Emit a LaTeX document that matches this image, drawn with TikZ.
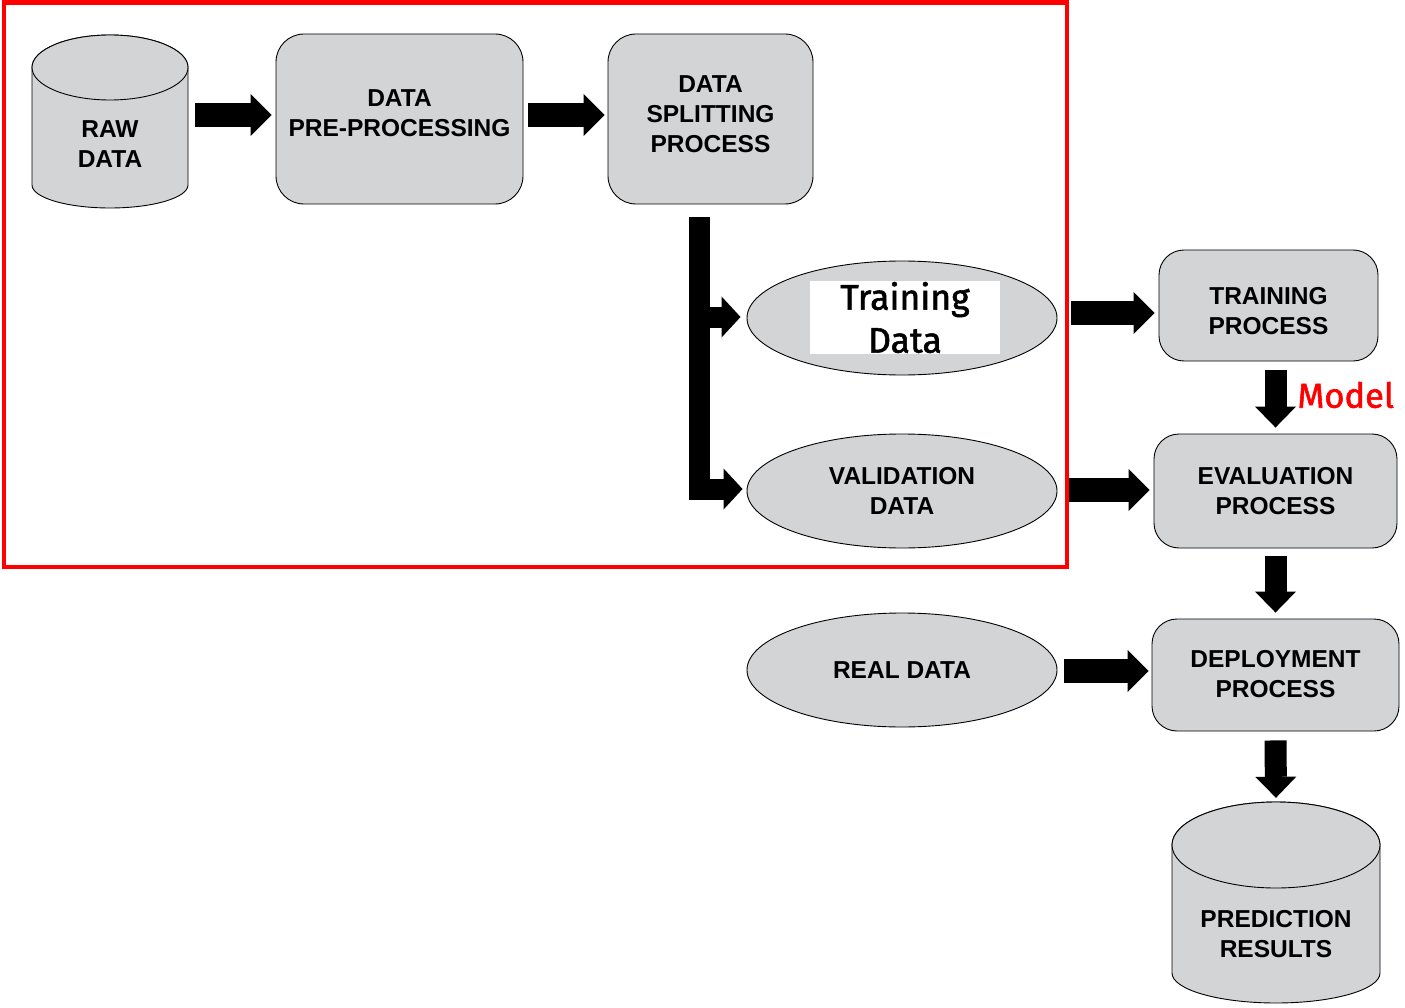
\documentclass[tikz,border=0pt]{standalone}
\usepackage{fontspec}
\setmainfont{Liberation Sans}
\newfontfamily\ubu[FakeBold=1.6]{Fira Sans}
\usetikzlibrary{arrows.meta,shapes.geometric,calc}
\definecolor{boxgray}{RGB}{211,212,214}
\definecolor{hired}{RGB}{255,0,0}
\tikzset{
  txt/.style={align=center, font=\bfseries\fontsize{24.5}{30}\selectfont, inner sep=0pt},
  procbox/.style={draw=black, line width=0.9pt, fill=boxgray, rounded corners=28pt, inner sep=0pt},
  dataell/.style={ellipse, draw=black, line width=0.9pt, fill=boxgray, inner sep=0pt,
    minimum width=310pt, minimum height=114pt, txt},
  cyl/.style={draw=black, line width=0.9pt, fill=boxgray},
  holder/.style={rectangle, inner sep=0pt},
  blk/.style={line width=24pt, -{Triangle[length=21pt,width=42pt,line width=0pt]}},
  blkbar/.style={line width=21pt, -{Triangle[length=19pt,width=41pt,line width=0pt]}},
  blkv/.style={line width=22pt, -{Triangle[length=21pt,width=41pt,line width=0pt]}},
}
\begin{document}
\begin{tikzpicture}[x=1pt,y=-1pt]
\useasboundingbox (0,0) rectangle (1405,1008);
\fill[white] (0,0) rectangle (1405,1008);

% red frame
\draw[hired, line width=4.5pt] (4,2.5) rectangle (1067,567);

% RAW DATA cylinder
\filldraw[cyl] (32,67.5) -- (32,185) arc[start angle=180,end angle=360,x radius=78pt,y radius=23pt]
  -- (188,67.5) arc[start angle=0,end angle=180,x radius=78pt,y radius=32.5pt] -- cycle;
\filldraw[cyl] (110,67.5) ellipse [x radius=78pt, y radius=32.5pt];
\node[holder, minimum width=156pt, minimum height=173pt,
  label={[txt,yshift=-22.5pt]center:RAW\\DATA}] (raw) at (110,121.5) {};

% process boxes
\node[procbox, minimum width=247pt, minimum height=170pt,
  label={[txt,yshift=5.5pt]center:DATA\\PRE-PROCESSING}] (pre) at (399.5,119) {};
\node[procbox, minimum width=205pt, minimum height=170pt,
  label={[txt,yshift=5pt]center:DATA\\SPLITTING\\PROCESS}] (split) at (710.5,119) {};
\node[procbox, rounded corners=25pt, minimum width=219pt, minimum height=111pt,
  label={[txt,yshift=-6pt]center:TRAINING\\PROCESS}] (train) at (1268.5,305.5) {};
\node[procbox, rounded corners=25pt, minimum width=243pt, minimum height=114pt,
  label={[txt]center:EVALUATION\\PROCESS}] (eval) at (1275.5,491) {};
\node[procbox, rounded corners=25pt, minimum width=247pt, minimum height=112pt,
  label={[txt,yshift=1pt]center:DEPLOYMENT\\PROCESS}] (deploy) at (1275.5,675) {};

% data ellipses
\node[dataell] (trdata) at (902,318) {};
\node[fill=white, minimum width=190pt, minimum height=73pt, inner sep=0pt, align=center,
  font=\ubu\fontsize{35.5}{43}\selectfont] (trtext) at (905,317.5) {Training\\Data};
\node[dataell] (valdata) at (902,491) {VALIDATION\\DATA};
\node[dataell] (real) at (902,670) {REAL DATA};

% PREDICTION RESULTS cylinder
\filldraw[cyl] (1172,845) -- (1172,973) arc[start angle=180,end angle=360,x radius=104pt,y radius=30pt]
  -- (1380,845) arc[start angle=0,end angle=180,x radius=104pt,y radius=43pt] -- cycle;
\filldraw[cyl] (1276,845) ellipse [x radius=104pt, y radius=43pt];
\node[holder, minimum width=208pt, minimum height=201pt,
  label={[txt,yshift=-31.5pt]center:PREDICTION\\RESULTS}] (pred) at (1276,902.5) {};

% connectors
\draw[blk] ($(raw.east)+(7,-6.5)$) -- ($(pre.west)+(-4,-4)$);
\draw[blk] ($(pre.east)+(5,-4)$) -- ($(split.west)+(-3,-4)$);
\draw[blkbar] ($(split.south)+(-11,13)$) |- ($(trdata.west)+(-6,-1)$);
\draw[blkbar] ($(split.south)+(-11,13)$) |- ($(valdata.west)+(-4,-2)$);
\draw[blk] ($(trdata.east)+(14,-5)$) -- ($(trdata.east -| train.west)+(-4,-5)$);
\draw[blk] ($(valdata.east)+(12,-1)$) -- ($(valdata.east -| eval.west)+(-4,-1)$);
\draw[blk] ($(real.east)+(7,1)$) -- ($(real.east -| deploy.west)+(-3,1)$);
\draw[blkv] ($(eval.north |- train.south)+(0,9)$) -- ($(eval.north)+(0,-6)$)
  node[pos=0.5, anchor=west, xshift=11pt, yshift=4pt, inner sep=0pt, text=hired,
       font=\ubu\fontsize{34.5}{34.5}\selectfont] (model) {Model};
\draw[blkv] ($(eval.south)+(0,8)$) -- ($(deploy.north)+(0,-6)$);
\draw[blkv] ($(deploy.south)+(0,9)$) -- ($(pred.north)+(0,-4)$);
\end{tikzpicture}
\end{document}
